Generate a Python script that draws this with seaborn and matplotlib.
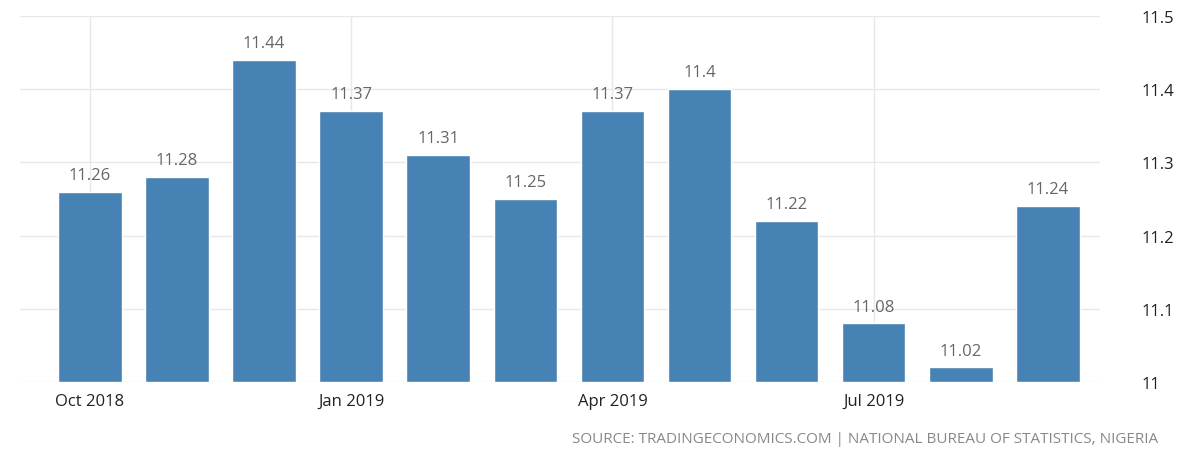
import matplotlib
matplotlib.use("Agg")
import matplotlib.pyplot as plt
import seaborn as sns
import pandas as pd

# monthly values, Oct 2018 - Sep 2019
months = ["Oct 2018", "Nov 2018", "Dec 2018", "Jan 2019", "Feb 2019", "Mar 2019",
          "Apr 2019", "May 2019", "Jun 2019", "Jul 2019", "Aug 2019", "Sep 2019"]
values = [11.26, 11.28, 11.44, 11.37, 11.31, 11.25, 11.37, 11.4, 11.22, 11.08, 11.02, 11.24]
value_labels = ["11.26", "11.28", "11.44", "11.37", "11.31", "11.25",
                "11.37", "11.4", "11.22", "11.08", "11.02", "11.24"]
shown_ticks = ["Oct 2018", "Jan 2019", "Apr 2019", "Jul 2019"]
y_ticks = [11, 11.1, 11.2, 11.3, 11.4, 11.5]
y_tick_labels = ["11", "11.1", "11.2", "11.3", "11.4", "11.5"]

df = pd.DataFrame({"month": months, "value": values})

sns.set_style("white")
plt.rcParams["font.family"] = ["Open Sans", "DejaVu Sans"]

fig = plt.figure(figsize=(11.88, 4.56), dpi=100)
ax = fig.add_axes([0.017, 0.16, 0.909, 0.803])

# bars start at 11, so draw heights relative to the baseline
sns.barplot(data=df, x="month", y="value", color="#4682b4", saturation=1,
            width=0.73, ax=ax, zorder=3)
for p in ax.patches:
    h = p.get_height()
    p.set_y(11)
    p.set_height(h - 11)

ax.set_ylim(11, 11.5)
ax.set_xlim(-0.8, 11.6)

for i, (v, lab) in enumerate(zip(values, value_labels)):
    ax.text(i, v + 0.012, lab, ha="center", va="bottom", fontsize=12,
            color="#666666", zorder=4)

tick_pos = [months.index(m) for m in shown_ticks]
ax.set_xticks(tick_pos)
ax.set_xticklabels(shown_ticks, fontsize=12, color="#222222")
ax.yaxis.tick_right()
ax.set_yticks(y_ticks)
ax.set_yticklabels(y_tick_labels, fontsize=12, color="#222222")
ax.tick_params(axis="both", length=0, pad=8)
ax.tick_params(axis="y", pad=30)
ax.set_xlabel("")
ax.set_ylabel("")

ax.grid(True, color="#e8e8e8", linewidth=1, zorder=0)
for s in ax.spines.values():
    s.set_visible(False)

fig.text(0.975, 0.02, "SOURCE: TRADINGECONOMICS.COM | NATIONAL BUREAU OF STATISTICS, NIGERIA",
         ha="right", va="bottom", fontsize=11, color="#888888")

fig.savefig("out.png", dpi=100)
